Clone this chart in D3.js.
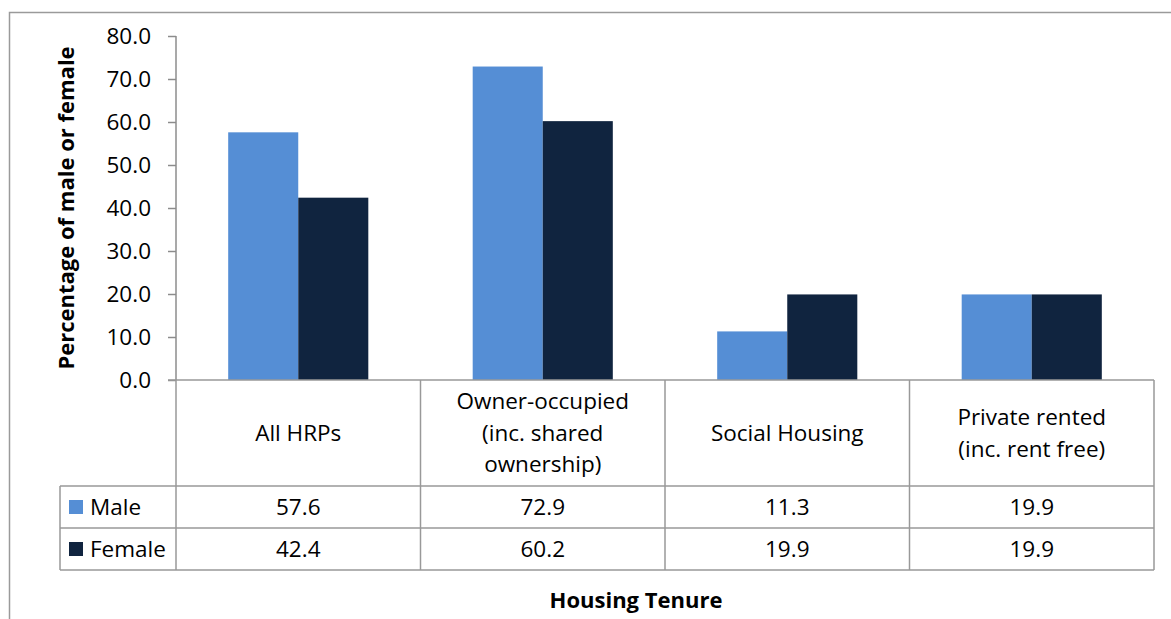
<!DOCTYPE html>
<html>
<head>
<meta charset="utf-8">
<script src="https://cdnjs.cloudflare.com/ajax/libs/d3/7.8.5/d3.min.js"></script>
<style>
  body { margin: 0; background: #fff; }
  svg { display: block; font-family: "Open Sans", sans-serif; }
</style>
</head>
<body>
<svg id="chart" width="1171" height="619"></svg>
<script>
var categories = [["All HRPs"], ["Owner-occupied", "(inc. shared", "ownership)"], ["Social Housing"], ["Private rented", "(inc. rent free)"]];
var series = ["Male", "Female"];
var male = [57.6, 72.9, 11.3, 19.9];
var female = [42.4, 60.2, 19.9, 19.9];
var yTicks = [0, 10, 20, 30, 40, 50, 60, 70, 80];

function drawChart() {
    var values = [male, female];
    var colors = ["#558ed5", "#10243f"];
    var gridColor = "#999";
    var fs = 22.5;

    var svg = d3.select("#chart");

    // outer frame
    svg.append("rect")
        .attr("x", 9.5).attr("y", 12.5)
        .attr("width", 1200).attr("height", 700)
        .attr("fill", "none").attr("stroke", "#9a9a9a").attr("stroke-width", 1.5);

    var plotLeft = 176, plotRight = 1154, plotTop = 36, plotBottom = 380;
    var headerBottom = 486, rowH = 42, legendLeft = 60;

    var x0 = d3.scaleBand()
        .domain(d3.range(categories.length))
        .range([plotLeft, plotRight])
        .paddingInner(0);

    var x1 = d3.scaleBand()
        .domain(series)
        .range([0, x0.bandwidth()])
        .paddingInner(0)
        .paddingOuter(0.745);

    var y = d3.scaleLinear()
        .domain([0, 80])
        .range([plotBottom, plotTop]);

    // bars
    var groups = svg.append("g")
        .selectAll("g")
        .data(categories)
        .enter().append("g")
        .attr("transform", function(d, i) { return "translate(" + x0(i) + ",0)"; });

    groups.selectAll("rect")
        .data(function(d, i) { return series.map(function(s, k) { return {key: s, value: values[k][i], k: k}; }); })
        .enter().append("rect")
        .attr("x", function(d) { return x1(d.key); })
        .attr("y", function(d) { return y(d.value); })
        .attr("width", x1.bandwidth())
        .attr("height", function(d) { return plotBottom - y(d.value); })
        .attr("fill", function(d) { return colors[d.k]; });

    // y axis
    var yAxis = svg.append("g")
        .attr("transform", "translate(" + plotLeft + ",0)")
        .call(d3.axisLeft(y).tickValues(yTicks).tickFormat(d3.format(".1f")).tickSize(8).tickPadding(17));
    yAxis.select(".domain").attr("stroke", "#8c8c8c").attr("stroke-width", 1.5).attr("d", "M0," + plotTop + "V" + plotBottom);
    yAxis.selectAll(".tick line").attr("stroke", "#8c8c8c").attr("stroke-width", 1.5);
    yAxis.selectAll(".tick text").attr("font-size", fs).attr("fill", "#000")
        .attr("font-family", "Open Sans, sans-serif");

    // y title
    svg.append("text")
        .attr("transform", "translate(74,208) rotate(-90)")
        .attr("text-anchor", "middle")
        .attr("font-weight", "bold")
        .attr("font-size", 22)
        .text("Percentage of male or female");

    // data table lines
    var tbl = svg.append("g").attr("stroke", gridColor).attr("stroke-width", 1.5).attr("fill", "none");
    var tableBottom = headerBottom + rowH * series.length;
    tbl.append("line").attr("x1", plotLeft - 8).attr("x2", plotRight).attr("y1", plotBottom).attr("y2", plotBottom);
    tbl.append("line").attr("x1", legendLeft).attr("x2", plotRight).attr("y1", headerBottom).attr("y2", headerBottom);
    series.forEach(function(s, k) {
        var yy = headerBottom + rowH * (k + 1);
        tbl.append("line").attr("x1", legendLeft).attr("x2", plotRight).attr("y1", yy).attr("y2", yy);
    });
    tbl.append("line").attr("x1", legendLeft).attr("x2", legendLeft).attr("y1", headerBottom).attr("y2", tableBottom);
    x0.domain().concat([categories.length]).forEach(function(i) {
        var xx = i < categories.length ? x0(i) : plotRight;
        tbl.append("line").attr("x1", xx).attr("x2", xx)
            .attr("y1", plotBottom).attr("y2", tableBottom);
    });

    // header labels
    var lineH = 31.5;
    categories.forEach(function(lines, i) {
        var cx = x0(i) + x0.bandwidth() / 2;
        var cy = (plotBottom + headerBottom) / 2;
        var t = svg.append("text")
            .attr("text-anchor", "middle")
            .attr("font-size", fs)
            .attr("fill", "#000");
        lines.forEach(function(l, j) {
            t.append("tspan")
                .attr("x", cx)
                .attr("y", cy + (j - (lines.length - 1) / 2) * lineH)
                .attr("dy", "0.35em")
                .text(l);
        });
    });

    // rows
    series.forEach(function(s, k) {
        var cy = headerBottom + rowH * k + rowH / 2;
        svg.append("rect")
            .attr("x", 69).attr("y", cy - 7)
            .attr("width", 14).attr("height", 14)
            .attr("fill", colors[k]);
        svg.append("text")
            .attr("x", 90).attr("y", cy).attr("dy", "0.35em")
            .attr("font-size", fs)
            .text(s);
        values[k].forEach(function(v, i) {
            svg.append("text")
                .attr("x", x0(i) + x0.bandwidth() / 2)
                .attr("y", cy).attr("dy", "0.35em")
                .attr("text-anchor", "middle")
                .attr("font-size", fs)
                .text(d3.format(".1f")(v));
        });
    });

    // x title
    svg.append("text")
        .attr("x", 636).attr("y", 608)
        .attr("text-anchor", "middle")
        .attr("font-weight", "bold")
        .attr("font-size", 22)
        .text("Housing Tenure");
}

drawChart();
</script>
</body>
</html>
